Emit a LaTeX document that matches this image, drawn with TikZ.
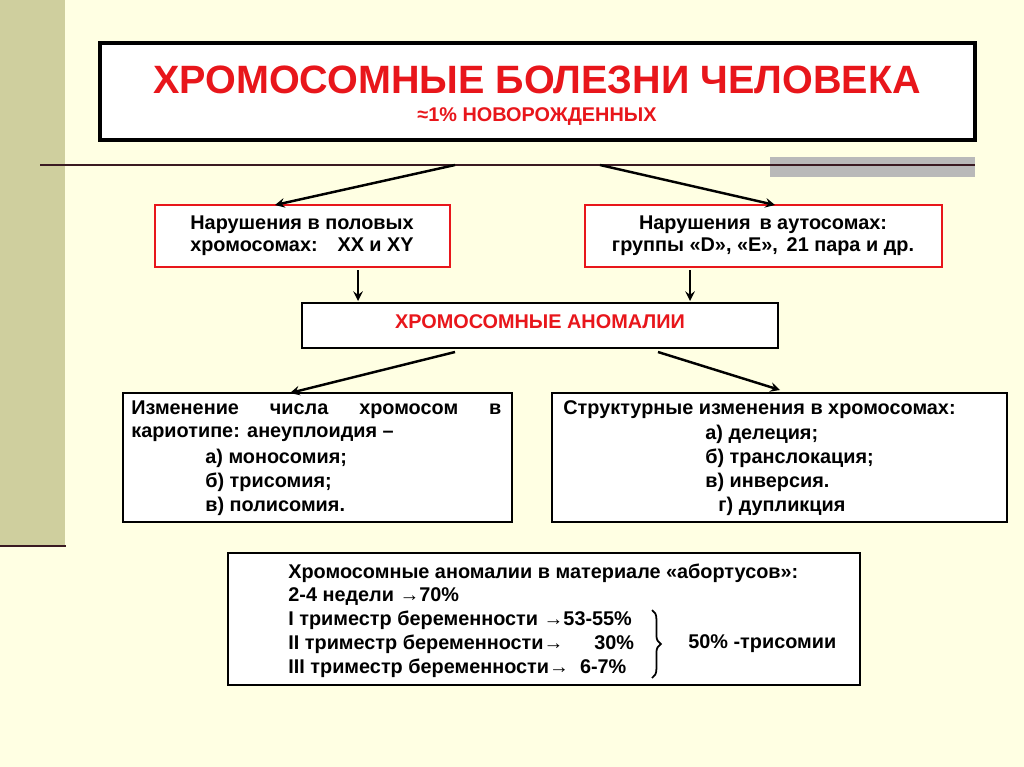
\documentclass[tikz,border=0pt]{standalone}
\usepackage{fontspec}
\setmainfont{Liberation Sans}
\usetikzlibrary{positioning,decorations.pathreplacing}
\definecolor{pagebg}{HTML}{FFFFE3}
\definecolor{stripe}{HTML}{CFCF9E}
\definecolor{titlered}{HTML}{E8161B}
\definecolor{linebrown}{HTML}{3A1A22}
\tikzset{
  box/.style={draw=black, line width=1.2pt, fill=white},
  redbox/.style={draw=titlered, line width=1.2pt, fill=white},
  link/.style={->, >=stealth, line width=1.4pt},
  txt/.style={font=\bfseries\fontsize{11.3}{13}\selectfont, anchor=west, inner sep=0pt}
}
\begin{document}
\begin{tikzpicture}[x=0.02cm, y=-0.02cm]
    % Page and left stripe
    \fill[pagebg] (0,0) rectangle (1024,767);
    \useasboundingbox (0,0) rectangle (1024,767);
    \fill[stripe] (0,0) rectangle (65,545);
    \draw[linebrown, line width=1.2pt] (0,546) -- (66,546);

    % Title
    \draw[box, line width=2pt] (100,43) rectangle (975,140);
    \node[titlered, font=\bfseries\fontsize{22.5}{26}\selectfont] (title) at (537,80) {ХРОМОСОМНЫЕ БОЛЕЗНИ ЧЕЛОВЕКА};
    \node[titlered, font=\bfseries\fontsize{11.3}{13}\selectfont] (share) at (537,117) {≈1\% НОВОРОЖДЕННЫХ};

    % Rule under the title
    \fill[gray!55] (770,157) rectangle (975,177);
    \draw[linebrown, line width=1.5pt] (40,165) -- (975,165);
    \coordinate (splitL) at (455,165);
    \coordinate (splitR) at (600,165);

    % Two groups of disorders
    \draw[redbox] (155,205) rectangle (450,267);
    \node[font=\bfseries\fontsize{11.3}{12.5}\selectfont, align=center] (sexchr) at (302,236) {Нарушения в половых\\хромосомах:\quad XX и XY};
    \draw[redbox] (585,205) rectangle (942,267);
    \node[font=\bfseries\fontsize{11.3}{12.5}\selectfont, align=center] (autos) at (763,236) {Нарушения\, в аутосомах:\\группы «D», «E»,\, 21 пара и др.};
    \draw[link] (splitL) -- (275,205);
    \draw[link] (splitR) -- (775,205);

    % Anomalies
    \draw[box] (302,303) rectangle (778,348);
    \node[titlered, font=\bfseries\fontsize{11.3}{13}\selectfont] (anom) at (540,322) {ХРОМОСОМНЫЕ АНОМАЛИИ};
    \draw[link] (358,270) -- (358,301);
    \draw[link] (690,270) -- (690,301);

    % Numeric and structural changes
    \draw[box] (123,393) rectangle (512,522);
    \node[txt] (numer) at (131,410) {\makebox[7.4cm][s]{Изменение числа хромосом в}};
    \node[txt] (karyo) at (131,434) {кариотипе: анеуплоидия –};
    \node[txt] (mono) at (205,458) {а) моносомия;};
    \node[txt] (tri) at (205,482) {б) трисомия;};
    \node[txt] (poly) at (205,506) {в) полисомия.};
    \draw[box] (552,393) rectangle (1007,522);
    \node[txt] (struct) at (563,410) {Структурные изменения в хромосомах:};
    \node[txt] (del) at (705,434) {а) делеция;};
    \node[txt] (trans) at (705,458) {б) транслокация;};
    \node[txt] (inv) at (705,482) {в) инверсия.};
    \node[txt] (dup) at (718,506) {г) дупликция};
    \draw[link] (455,352) -- (290,393);
    \draw[link] (658,352) -- (780,390);

    % Abortus material
    \draw[box] (228,553) rectangle (860,685);
    \node[txt] (abort) at (288,573) {Хромосомные аномалии в материале «абортусов»:};
    \node[txt] (week) at (288,597) {2-4 недели →70\%};
    \node[txt] (trim1) at (288,620) {I триместр беременности →53-55\%};
    \node[txt] (trim2) at (288,644) {II триместр беременности→\quad\ \ 30\%};
    \node[txt] (trim3) at (288,668) {III триместр беременности→\ \ 6-7\%};
    \draw[decorate, decoration={brace, amplitude=5pt}, line width=1pt] (652,610) -- (652,678);
    \node[txt] (trisom) at (688,644) {50\% -трисомии};
\end{tikzpicture}
\end{document}
